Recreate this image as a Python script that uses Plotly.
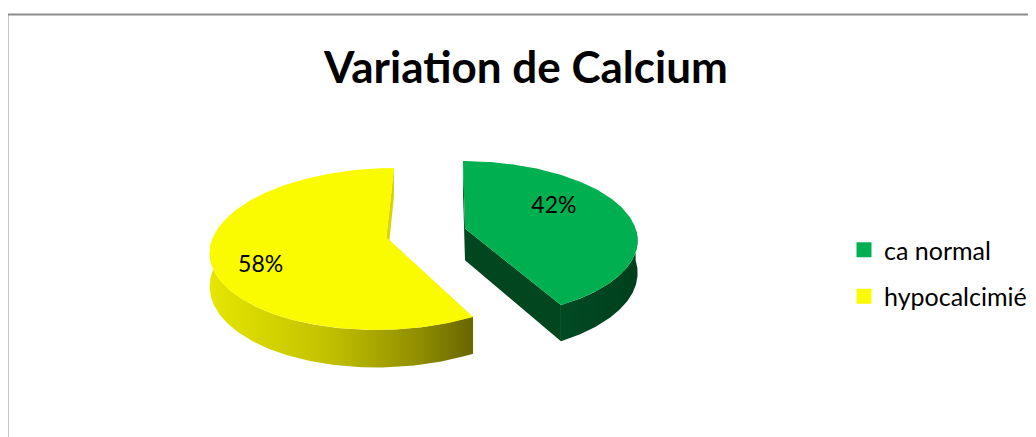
import numpy as np
import plotly.graph_objects as go

# ---- data ----
labels = ["ca normal", "hypocalcimié"]
values = [42, 58]
title_text = "Variation de Calcium"

# ---- styles ----
top_colors = ["#00B050", "#FBFB00"]
side_colors = ["#00461F", "#D8D500"]
wall_scales = [
    [[0, "#004A22"], [1, "#00401C"]],
    [[0, "#E6E600"], [0.45, "#C2C100"], [0.8, "#8F8D00"], [1, "#686600"]],
]
label_r = [0.55, 0.72]
label_dy = [-11, 14]

# the page body has an 8px margin: use window-pixel coordinates
OFF = 8
W, H = 1036, 437
CX, CY = 426, 233          # pie centre (px)
A, B = 172, 78             # ellipse radii (px)
K = 0.14                   # perspective strength
XP = 0.128                 # horizontal vanishing offset (radius units)
DEPTH = 32                 # thickness (px)
EXPLODE = 0.235
FONT = "Lato, Open Sans, sans-serif"


def proj(X, V, z=0.0):
    X = np.asarray(X, float)
    V = np.asarray(V, float)
    s = 1.0 / (1.0 - K * V)
    return CX + A * (XP + (X - XP) * s), CY + (B * V + DEPTH * z) * s


total = float(sum(values))
fracs = [v / total for v in values]
starts = np.concatenate([[0], np.cumsum(fracs)[:-1]]) * 360
ends = np.cumsum(fracs) * 360

fig = go.Figure()

for i, lab in enumerate(labels):
    a0, a1 = starts[i], ends[i]
    mid = np.radians((a0 + a1) / 2)
    ex, ev = EXPLODE * np.sin(mid), -EXPLODE * np.cos(mid)

    def rim(th_deg):
        th = np.radians(th_deg)
        return ex + np.sin(th), ev - np.cos(th)

    # radial side faces
    for edge in (a0, a1):
        rx, rv = rim(edge)
        X = [ex, rx, rx, ex, ex]
        V = [ev, rv, rv, ev, ev]
        Z = [0, 0, 1, 1, 0]
        px, py = proj(X, V, np.array(Z))
        fig.add_trace(go.Scatter(x=px, y=py, mode="lines", fill="toself",
                                 fillcolor=side_colors[i], line=dict(width=0),
                                 hoverinfo="skip", showlegend=False))

    # outer wall (front-facing part)
    w0, w1 = max(a0, 90), min(a1, 270)
    if w1 > w0:
        th = np.linspace(w0, w1, 120)
        rx, rv = rim(th)
        tx, ty = proj(rx, rv, 0)
        bx, by = proj(rx, rv, 1)
        px = np.concatenate([tx, bx[::-1], tx[:1]])
        py = np.concatenate([ty, by[::-1], ty[:1]])
        fig.add_trace(go.Scatter(x=px, y=py, mode="lines", fill="toself",
                                 fillgradient=dict(type="horizontal",
                                                   colorscale=wall_scales[i]),
                                 line=dict(width=0),
                                 hoverinfo="skip", showlegend=False))

    # top face
    th = np.linspace(a0, a1, 200)
    rx, rv = rim(th)
    X = np.concatenate([[ex], rx, [ex]])
    V = np.concatenate([[ev], rv, [ev]])
    px, py = proj(X, V, 0)
    fig.add_trace(go.Scatter(x=px, y=py, mode="lines", fill="toself",
                             fillcolor=top_colors[i], line=dict(width=0),
                             name=lab, hoveron="fills",
                             text=f"{lab}: {values[i]}", hoverinfo="text",
                             showlegend=False))

    # percentage label
    lx, ly = proj(ex + label_r[i] * np.sin(mid), ev - label_r[i] * np.cos(mid), 0)
    fig.add_trace(go.Scatter(x=[float(lx)], y=[float(ly) + label_dy[i]],
                             mode="text", text=[f"{fracs[i]*100:.0f}%"],
                             textfont=dict(family=FONT, size=23, color="#000000"),
                             hoverinfo="skip", showlegend=False))

# legend entries
for i, lab in enumerate(labels):
    fig.add_trace(go.Scatter(x=[None], y=[None], mode="markers", name=lab,
                             legendgroup=lab,
                             marker=dict(symbol="square", size=15,
                                         color=top_colors[i])))

fig.add_annotation(x=525.5, y=66, xref="x", yref="y", text=f"<b>{title_text}</b>",
                   showarrow=False, yanchor="middle",
                   font=dict(family=FONT, size=44, color="#000000"))

# chart border
fig.add_shape(type="rect", x0=7.5, y0=14.5, x1=1100, y1=500, xref="x", yref="y",
              line=dict(color="#8C8C8C", width=2), layer="below")

FW, FH = W - OFF, H - OFF
fig.update_layout(
    width=FW, height=FH,
    margin=dict(l=0, r=0, t=0, b=0),
    paper_bgcolor="#FFFFFF", plot_bgcolor="#FFFFFF",
    xaxis=dict(range=[OFF, W], visible=False, fixedrange=True),
    yaxis=dict(range=[H, OFF], visible=False, fixedrange=True),
    showlegend=True,
    legend=dict(x=(844 - OFF) / FW, y=1 - (227 - OFF) / FH,
                xanchor="left", yanchor="top",
                font=dict(family=FONT, size=25, color="#000000"),
                tracegroupgap=11, itemsizing="trace",
                bgcolor="rgba(0,0,0,0)"),
)

fig.write_html("out.html")
